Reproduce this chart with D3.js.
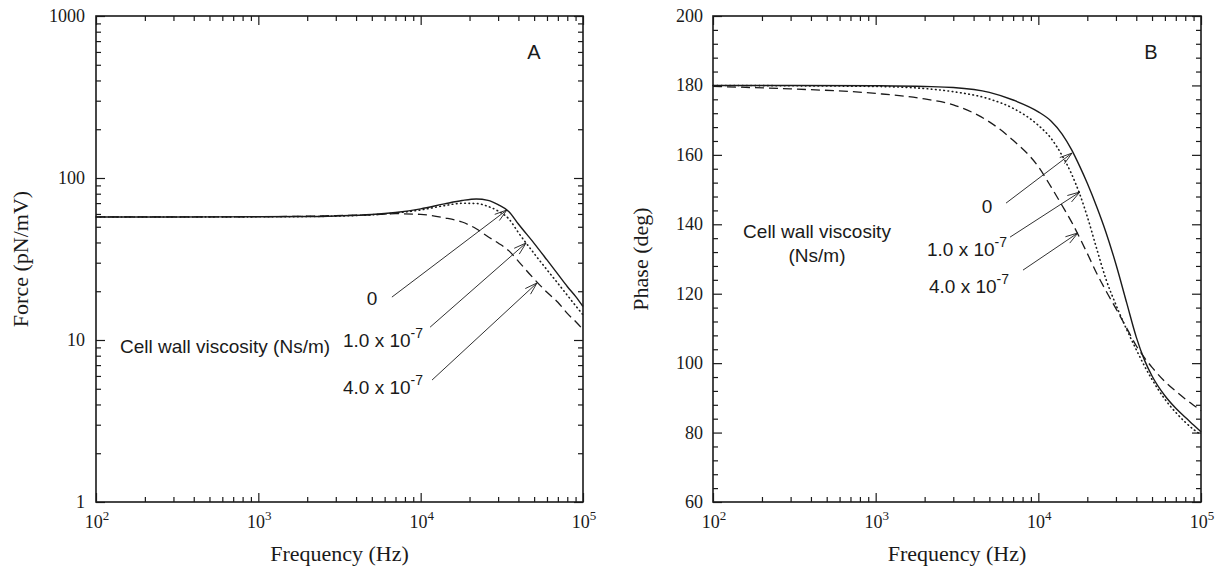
<!DOCTYPE html>
<html>
<head>
<meta charset="utf-8">
<script src="https://cdn.jsdelivr.net/npm/d3@7"></script>
<style>
  body { margin: 0; background: #fff; }
  svg { display: block; }
</style>
</head>
<body>
<svg id="chart" width="1218" height="582"></svg>
<script>
// ---- Force amplitude (panel A) ----
const forceFreq = [100, 300, 1000, 2000, 3000, 5000, 7000, 10000, 14000, 18000, 22000, 26000,
                   30000, 35000, 40000, 50000, 60000, 70000, 80000, 90000, 100000];
const forceVisc0 = [57.5, 57.5, 57.6, 57.8, 58.3, 59.5, 61.3, 64.5, 69.2, 72.6, 74.2, 72.8,
                    68.5, 62.0, 52.0, 39.5, 31.2, 25.5, 21.4, 18.6, 16.1];
const forceVisc1 = [57.5, 57.5, 57.6, 57.8, 58.2, 59.3, 60.8, 63.5, 67.5, 69.8, 69.6, 66.8,
                    62.5, 55.8, 46.0, 34.2, 27.1, 22.4, 18.9, 16.3, 14.3];
const forceVisc4 = [57.5, 57.5, 57.7, 58.1, 58.6, 59.3, 60.2, 59.6, 56.8, 53.5, 48.6, 43.4,
                    39.7, 35.5, 30.6, 23.8, 19.7, 17.1, 14.6, 13.0, 11.6];

// ---- Phase (panel B) ----
const phaseFreq = [100, 300, 1000, 2000, 3000, 5000, 7000, 10000, 12000, 14000, 16000, 18000,
                   20000, 23000, 26000, 30000, 35000, 40000, 45000, 50000, 60000, 70000, 80000, 90000, 100000];
const phaseVisc0 = [180, 180, 179.9, 179.7, 179.4, 178.0, 175.8, 172.4, 169.7, 166.0, 161.5, 156.6,
                    151.8, 144.7, 137.8, 128.5, 117.2, 107.5, 100.8, 96.3, 90.6, 87.0, 84.4, 82.2, 80.2];
const phaseVisc1 = [180, 179.9, 179.7, 179.1, 178.2, 176.1, 173.4, 168.5, 164.7, 159.8, 154.5, 148.6,
                    142.2, 132.5, 124.3, 116.8, 109.6, 103.9, 99.1, 95.3, 89.6, 85.8, 83.0, 80.9, 79.4];
const phaseVisc4 = [179.7, 179.0, 177.7, 176.1, 174.4, 169.5, 164.2, 156.6, 150.7, 145.4, 140.7, 136.0,
                    131.6, 125.6, 120.9, 115.7, 110.0, 105.0, 101.5, 98.8, 94.7, 91.9, 89.7, 87.9, 86.3];

// ---- Ticks and labels ----
const freqTicks = [1e2, 1e3, 1e4, 1e5];
const forceTicks = [1, 10, 100, 1000];
const phaseTicks = [60, 80, 100, 120, 140, 160, 180, 200];
const viscosityLabels = ["0", "1.0 x 10", "4.0 x 10"];
const viscosityExponents = ["", "-7", "-7"];

// Arrow endpoints for the viscosity callouts, in data units [freq, value]
const forceArrowFrom = [[6650, 18.4], [11430, 12.0], [11750, 5.66]];
const forceArrowTo   = [[34000, 63.5], [44600, 39.7], [52100, 22.5]];
const phaseArrowFrom = [[6330, 146.1], [6700, 136.3], [8050, 126.8]];
const phaseArrowTo   = [[16100, 160.5], [18000, 149.3], [17500, 137.5]];

const svg = d3.select("#chart");
const SERIF = "'Liberation Serif', 'Times New Roman', serif";
const SANS = "'Liberation Sans', Arial, sans-serif";
const INK = "#1a1a1a";

const panelA = { left: 96, right: 583, top: 16, bottom: 502 };
const panelB = { left: 713, right: 1201, top: 16, bottom: 502 };

function logMinor(lo, hi) {
  const out = [];
  for (let d = lo; d < hi; d *= 10) for (let k = 2; k <= 9; k++) out.push(k * d);
  return out;
}

function frame(p, x, y, xMajor, xMinor, yMajor, yMinor) {
  const g = svg.append("g");
  const strip = s => s.select(".domain").remove();
  const tickStyle = s => s.selectAll("line").attr("stroke", INK).attr("stroke-width", 1.2);
  const sides = [
    [d3.axisBottom(x), `translate(0,${p.bottom})`, xMajor, xMinor],
    [d3.axisTop(x), `translate(0,${p.top})`, xMajor, xMinor],
    [d3.axisLeft(y), `translate(${p.left},0)`, yMajor, yMinor],
    [d3.axisRight(y), `translate(${p.right},0)`, yMajor, yMinor]
  ];
  sides.forEach(([ax, tr, major, minor]) => {
    g.append("g").attr("transform", tr)
      .call(ax.tickValues(minor).tickSize(-5).tickFormat(""))
      .call(strip).call(tickStyle);
    g.append("g").attr("transform", tr)
      .call(ax.tickValues(major).tickSize(-9).tickFormat(""))
      .call(strip).call(tickStyle);
  });
  g.append("rect")
    .attr("x", p.left).attr("y", p.top)
    .attr("width", p.right - p.left).attr("height", p.bottom - p.top)
    .attr("fill", "none").attr("stroke", INK).attr("stroke-width", 1.6);

  // frequency tick labels 10^n
  xMajor.forEach(v => {
    const t = g.append("text")
      .attr("x", x(v) + 1).attr("y", p.bottom + 26)
      .attr("text-anchor", "middle")
      .attr("font-family", SERIF).attr("font-size", 18).attr("fill", INK);
    t.append("tspan").text("10");
    t.append("tspan").attr("dy", -8).attr("font-size", 13).text(Math.round(Math.log10(v)));
  });
  return g;
}

function series(x, y, freq, vals, dash, width) {
  const line = d3.line()
    .x((d, i) => x(freq[i]))
    .y(d => y(d))
    .curve(d3.curveMonotoneX);
  svg.append("path")
    .datum(vals)
    .attr("d", line)
    .attr("fill", "none")
    .attr("stroke", INK)
    .attr("stroke-width", width)
    .attr("stroke-linecap", dash === "dot" ? "round" : "butt")
    .attr("stroke-dasharray", dash === "dot" ? "0.6,3.6" : dash);
}

function arrow(x, y, from, to) {
  const x0 = x(from[0]), y0 = y(from[1]);
  const x1 = x(to[0]), y1 = y(to[1]);
  const ang = Math.atan2(y1 - y0, x1 - x0);
  const L = 13, spread = 0.3;
  const hx = a => x1 - L * Math.cos(ang + a), hy = a => y1 - L * Math.sin(ang + a);
  const path = d3.path();
  path.moveTo(x0, y0); path.lineTo(x1, y1);
  path.moveTo(hx(spread), hy(spread)); path.lineTo(x1, y1); path.lineTo(hx(-spread), hy(-spread));
  svg.append("path").attr("d", path.toString())
    .attr("fill", "none").attr("stroke", INK).attr("stroke-width", 0.9);
}

function label(xp, yp, i, anchor) {
  const t = svg.append("text")
    .attr("x", xp).attr("y", yp)
    .attr("text-anchor", anchor)
    .attr("font-family", SANS).attr("font-size", 19).attr("fill", INK);
  t.append("tspan").text(viscosityLabels[i]);
  if (viscosityExponents[i]) {
    t.append("tspan").attr("dy", -9).attr("font-size", 14).text(viscosityExponents[i]);
  }
}

// ================= Panel A =================
const xA = d3.scaleLog().domain([1e2, 1e5]).range([panelA.left, panelA.right]);
const yA = d3.scaleLog().domain([1, 1000]).range([panelA.bottom, panelA.top]);
frame(panelA, xA, yA, freqTicks, logMinor(1e2, 1e5), forceTicks, logMinor(1, 1000));

forceTicks.forEach(v => {
  svg.append("text")
    .attr("x", panelA.left - 11).attr("y", yA(v) + 6)
    .attr("text-anchor", "end")
    .attr("font-family", SERIF).attr("font-size", 18).attr("fill", INK)
    .text(v);
});

series(xA, yA, forceFreq, forceVisc4, "9,5", 1.3);
series(xA, yA, forceFreq, forceVisc1, "dot", 1.6);
series(xA, yA, forceFreq, forceVisc0, null, 1.4);

forceArrowFrom.forEach((f, i) => arrow(xA, yA, f, forceArrowTo[i]));
label(372, 305, 0, "middle");
label(343, 347, 1, "start");
label(343, 394, 2, "start");

svg.append("text")
  .attr("x", 120).attr("y", 353)
  .attr("font-family", SANS).attr("font-size", 19).attr("fill", INK)
  .text("Cell wall viscosity (Ns/m)");

svg.append("text")
  .attr("x", 534).attr("y", 59).attr("text-anchor", "middle")
  .attr("font-family", SANS).attr("font-size", 20).attr("fill", INK)
  .text("A");

svg.append("text")
  .attr("transform", `translate(28,${(panelA.top + panelA.bottom) / 2}) rotate(-90)`)
  .attr("text-anchor", "middle")
  .attr("font-family", SERIF).attr("font-size", 22).attr("fill", INK)
  .text("Force (pN/mV)");

svg.append("text")
  .attr("x", (panelA.left + panelA.right) / 2).attr("y", 561)
  .attr("text-anchor", "middle")
  .attr("font-family", SERIF).attr("font-size", 22).attr("fill", INK)
  .text("Frequency (Hz)");

// ================= Panel B =================
const xB = d3.scaleLog().domain([1e2, 1e5]).range([panelB.left, panelB.right]);
const yB = d3.scaleLinear().domain([60, 200]).range([panelB.bottom, panelB.top]);
const phaseMinor = d3.range(60, 201, 4).filter(v => v % 20 !== 0);
frame(panelB, xB, yB, freqTicks, logMinor(1e2, 1e5), phaseTicks, phaseMinor);

phaseTicks.forEach(v => {
  svg.append("text")
    .attr("x", panelB.left - 10).attr("y", yB(v) + 6)
    .attr("text-anchor", "end")
    .attr("font-family", SERIF).attr("font-size", 18).attr("fill", INK)
    .text(v);
});

series(xB, yB, phaseFreq, phaseVisc4, "9,5", 1.3);
series(xB, yB, phaseFreq, phaseVisc1, "dot", 1.6);
series(xB, yB, phaseFreq, phaseVisc0, null, 1.4);

phaseArrowFrom.forEach((f, i) => arrow(xB, yB, f, phaseArrowTo[i]));
label(987, 213, 0, "middle");
label(927, 256, 1, "start");
label(929, 293, 2, "start");

svg.append("text")
  .attr("x", 817).attr("y", 238).attr("text-anchor", "middle")
  .attr("font-family", SANS).attr("font-size", 19).attr("fill", INK)
  .text("Cell wall viscosity");
svg.append("text")
  .attr("x", 817).attr("y", 262).attr("text-anchor", "middle")
  .attr("font-family", SANS).attr("font-size", 19).attr("fill", INK)
  .text("(Ns/m)");

svg.append("text")
  .attr("x", 1151).attr("y", 59).attr("text-anchor", "middle")
  .attr("font-family", SANS).attr("font-size", 20).attr("fill", INK)
  .text("B");

svg.append("text")
  .attr("transform", `translate(648,${(panelB.top + panelB.bottom) / 2}) rotate(-90)`)
  .attr("text-anchor", "middle")
  .attr("font-family", SERIF).attr("font-size", 22).attr("fill", INK)
  .text("Phase (deg)");

svg.append("text")
  .attr("x", (panelB.left + panelB.right) / 2).attr("y", 561)
  .attr("text-anchor", "middle")
  .attr("font-family", SERIF).attr("font-size", 22).attr("fill", INK)
  .text("Frequency (Hz)");
</script>
</body>
</html>
